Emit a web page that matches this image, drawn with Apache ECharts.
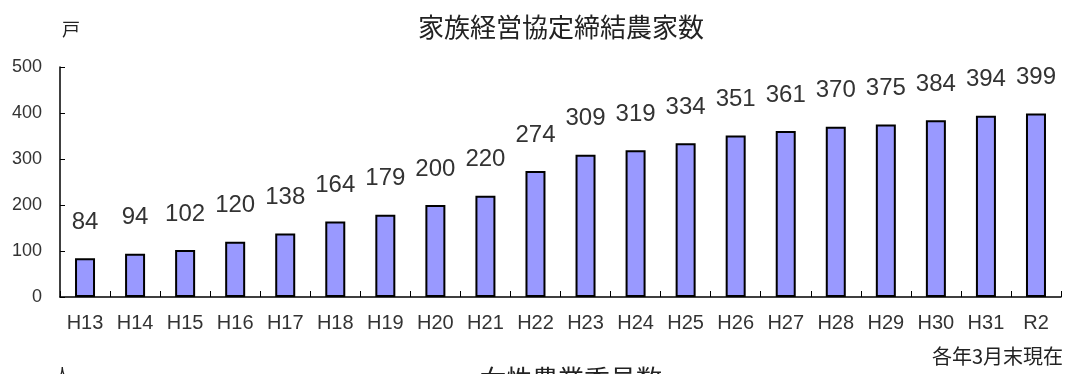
<!DOCTYPE html>
<html>
<head>
<meta charset="utf-8">
<script src="https://cdn.jsdelivr.net/npm/echarts@6/dist/echarts.min.js"></script>
<style>
  html, body { margin: 0; padding: 0; background: #fff; }
  #chart { width: 1068px; height: 374px; }
</style>
</head>
<body>
<div id="chart"></div>
<script>
// 家族経営協定締結農家数（各年3月末現在）
const years = ['H13','H14','H15','H16','H17','H18','H19','H20','H21','H22',
               'H23','H24','H25','H26','H27','H28','H29','H30','H31','R2'];
const households = [84, 94, 102, 120, 138, 164, 179, 200, 220, 274,
                    309, 319, 334, 351, 361, 370, 375, 384, 394, 399];
const yTicks = [0, 100, 200, 300, 400, 500];

const JP = '"Noto Sans CJK JP", sans-serif';
const NUM = '"Liberation Sans", Arial, sans-serif';

const chart = echarts.init(document.getElementById('chart'), null, { renderer: 'canvas' });
chart.setOption({
  animation: false,
  backgroundColor: '#ffffff',
  title: {
    text: '家族経営協定締結農家数',
    left: 556, top: 9, textAlign: 'center',
    textStyle: { fontFamily: JP, fontSize: 26, fontWeight: 'normal', color: '#222' }
  },
  grid: { left: 60, right: 7, top: 67, bottom: 77, containLabel: false },
  xAxis: {
    type: 'category',
    data: years,
    axisLine: { lineStyle: { color: '#000', width: 1.5 } },
    axisTick: { show: true, inside: true, length: 6, lineStyle: { color: '#000' } },
    axisLabel: { fontFamily: NUM, fontSize: 20, color: '#333', margin: 16 }
  },
  yAxis: {
    type: 'value',
    min: yTicks[0], max: yTicks[yTicks.length - 1], interval: 100,
    axisLine: { show: true, lineStyle: { color: '#000', width: 1.5 } },
    axisTick: { show: true, inside: true, length: 5, lineStyle: { color: '#000' } },
    splitLine: { show: false },
    axisLabel: { fontFamily: NUM, fontSize: 18, color: '#333', margin: 18 }
  },
  series: [{
    type: 'bar',
    data: households,
    barWidth: 20,
    itemStyle: { color: '#9999FF', borderColor: '#000', borderWidth: 2 },
    label: {
      show: true, position: 'top', distance: 24,
      fontFamily: NUM, fontSize: 24, color: '#333'
    }
  }],
  graphic: [
    {
      type: 'text', left: 62, top: 20,
      style: { text: '戸', font: '18px ' + JP, fill: '#222' }
    },
    {
      type: 'text', right: 5, top: 346,
      style: { text: '各年3月末現在', font: '20px ' + JP, fill: '#222' }
    },
    {
      type: 'text', left: 480, top: 366,
      style: { text: '女性農業委員数', font: '26px ' + JP, fill: '#222' }
    },
    {
      type: 'text', left: 54, top: 366,
      style: { text: '人', font: '17px ' + JP, fill: '#222' }
    }
  ]
});
</script>
</body>
</html>
